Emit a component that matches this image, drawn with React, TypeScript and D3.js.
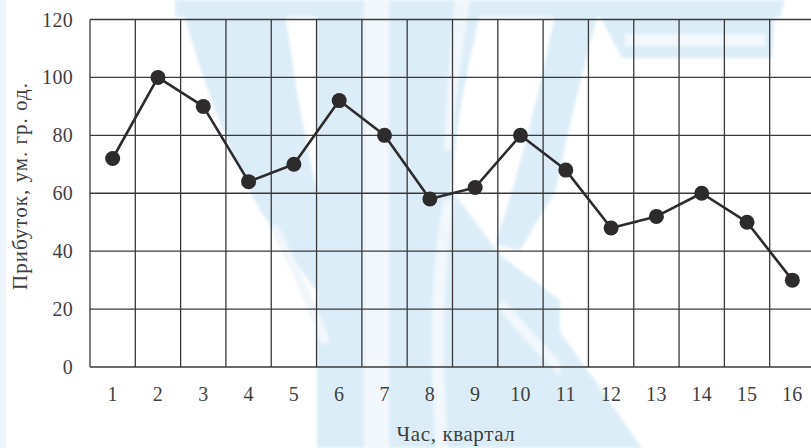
import React from "react";
import * as d3 from "d3";

// Quarterly profit series
const quarters: string[] = ["1", "2", "3", "4", "5", "6", "7", "8", "9", "10", "11", "12", "13", "14", "15", "16"];
const profit: number[] = [72, 100, 90, 64, 70, 92, 80, 58, 62, 80, 68, 48, 52, 60, 50, 30];
const yTicks: number[] = [0, 20, 40, 60, 80, 100, 120];

const xTitle = "Час, квартал";
const yTitle = "Прибуток, ум. гр. од.";

const W = 811;
const H = 448;
const left = 90;
const right = 815;
const top = 19.5;
const bottom = 367;

const FONT = "'Liberation Serif', 'Times New Roman', serif";
const TEXT = "#3f3f3f";
const GRID = "#3a3a3a";
const MARK = "#2e2b2d";
const WASH = "#ddedf7";
const PALE = "#f1f7fb";

// Pale emblem printed behind the plot
const emblem: string[] = [
  // top strip
  "M175,0 L785,0 L780,17 L175,17 Z",
  // left prong
  "M180,0 L283,0 C292,60 302,130 317,190 L317,292 C295,262 270,228 252,196 C225,140 200,75 180,0 Z",
  // central column
  "M317,0 L483,0 C470,60 455,120 452,190 L500,255 L560,300 L560,448 L317,448 Z",
  // right prong: diagonal stroke
  "M558,0 L602,0 C585,60 568,130 556,190 L520,250 L495,245 C520,170 540,90 558,0 Z",
  // right prong: upper bar
  "M600,17 L775,17 L772,58 L622,58 Z",
  // lower right foot
  "M540,300 C560,335 585,365 605,395 L642,448 L540,448 Z",
];
const emblemGaps: string[] = [
  // light vertical stripe through the column
  "M364,0 L389,0 L389,448 L364,448 Z",
  // inner curves
  "M277,224 C290,250 305,280 330,340 L322,345 C300,290 285,255 270,228 Z",
  "M455,200 C445,260 440,330 448,448 L436,448 C428,330 432,260 444,200 Z",
  "M505,300 C520,320 545,345 560,362 L560,376 C540,356 515,330 497,306 Z",
  "M625,34 L765,34 L765,46 L625,46 Z",
  "M455,0 L470,0 C462,50 455,100 452,150 L444,150 C446,100 450,50 455,0 Z",
];

export default function App() {
  const x = d3.scaleBand<string>().domain(quarters).range([left, right]);
  const y = d3.scaleLinear().domain([0, 120]).range([bottom, top]);
  const cx = (q: string) => (x(q) ?? 0) + x.bandwidth() / 2;

  const line = d3
    .line<number>()
    .x((_, i) => cx(quarters[i]))
    .y((d) => y(d));

  const boundaries = quarters.map((q) => x(q) ?? 0);

  return (
    <svg width={W} height={H} style={{ position: "absolute", left: 0, top: 0, background: "#fff" }}>
      <defs>
        <filter id="soft" x="-5%" y="-5%" width="110%" height="110%">
          <feGaussianBlur stdDeviation={1.5} />
        </filter>
      </defs>
      <rect x={0} y={0} width={W} height={H} fill="#fff" />
      <rect x={0} y={0} width={6} height={H} fill="#eef6fb" />
      <g filter="url(#soft)">
        {emblem.map((d, i) => (
          <path key={i} d={d} fill={WASH} />
        ))}
        {emblemGaps.map((d, i) => (
          <path key={i} d={d} fill={PALE} />
        ))}
      </g>

      {/* horizontal grid */}
      {yTicks.map((t) => (
        <line key={t} x1={left} x2={right} y1={y(t)} y2={y(t)} stroke={GRID} strokeWidth={1.3} />
      ))}
      {/* vertical grid at quarter boundaries */}
      {boundaries.map((b, i) => (
        <line key={i} x1={b} x2={b} y1={top} y2={bottom} stroke={GRID} strokeWidth={1.3} />
      ))}

      {/* y tick labels */}
      {yTicks.map((t) => (
        <text key={t} x={73} y={y(t) + 7} textAnchor="end" fontFamily={FONT} fontSize={20} letterSpacing={0.3} fill={TEXT}>
          {t}
        </text>
      ))}
      {/* x tick labels */}
      {quarters.map((q) => (
        <text key={q} x={cx(q)} y={401} textAnchor="middle" fontFamily={FONT} fontSize={20} letterSpacing={0.3} fill={TEXT}>
          {q}
        </text>
      ))}

      <text x={456} y={441} textAnchor="middle" fontFamily={FONT} fontSize={21} letterSpacing={0.6} fill={TEXT}>
        {xTitle}
      </text>
      <text
        transform={`translate(27,186) rotate(-90)`}
        textAnchor="middle"
        fontFamily={FONT}
        fontSize={21}
        letterSpacing={1}
        fill={TEXT}
      >
        {yTitle}
      </text>

      <path d={line(profit) ?? ""} fill="none" stroke={MARK} strokeWidth={2.6} strokeLinejoin="round" />
      {profit.map((v, i) => (
        <circle key={i} cx={cx(quarters[i])} cy={y(v)} r={7.5} fill={MARK} />
      ))}
    </svg>
  );
}
